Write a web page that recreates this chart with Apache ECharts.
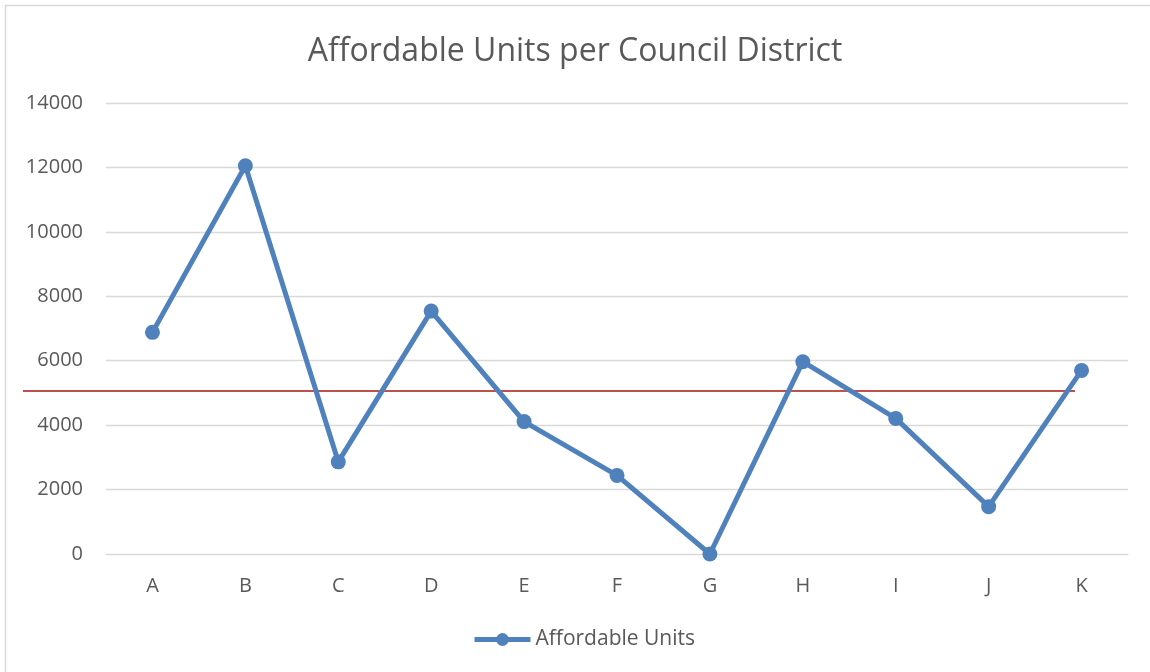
<!DOCTYPE html>
<html>
<head>
<meta charset="utf-8">
<script src="https://cdn.jsdelivr.net/npm/echarts@6/dist/echarts.min.js"></script>
<style>
    html, body { margin: 0; padding: 0; background: #fff; }
    #main { width: 1150px; height: 672px; }
</style>
</head>
<body>
<div id="main"></div>
<script>
var districts = ['A', 'B', 'C', 'D', 'E', 'F', 'G', 'H', 'I', 'J', 'K'];
var affordableUnits = [6880, 12050, 2860, 7540, 4110, 2440, 0, 5970, 4210, 1470, 5700];
var referenceLevel = 5060; // red line across the plot
var yTicks = [0, 14000, 2000]; // min, max, interval

var chart = echarts.init(document.getElementById('main'));
var txt = '#595959';
var font = '"Open Sans", "Liberation Sans", sans-serif';

var option = {
    animation: false,
    backgroundColor: '#fff',
    title: {
        text: 'Affordable Units per Council District',
        left: 'center',
        top: 31,
        textStyle: { fontFamily: font, fontSize: 32, fontWeight: 'normal', color: txt }
    },
    grid: { left: 106, right: 22, top: 103, bottom: 118 },
    legend: {
        bottom: 17,
        left: 467,
        itemWidth: 56,
        itemHeight: 16,
        itemGap: 10,
        lineStyle: { width: 5 },
        textStyle: { fontFamily: font, fontSize: 21, color: txt },
        data: ['Affordable Units']
    },
    xAxis: {
        type: 'category',
        data: districts,
        axisLine: { show: true, lineStyle: { color: '#d9d9d9', width: 1 } },
        axisTick: { show: false },
        axisLabel: { fontFamily: font, fontSize: 20, color: txt, margin: 22 }
    },
    yAxis: {
        type: 'value',
        min: yTicks[0],
        max: yTicks[1],
        interval: yTicks[2],
        axisLine: { show: false },
        axisTick: { show: false },
        axisLabel: {
            fontFamily: font, fontSize: 20, color: txt, margin: 23,
            formatter: function (v) { return String(v); }
        },
        splitLine: { lineStyle: { color: '#d9d9d9', width: 1.3 } }
    },
    series: [
        {
            name: 'Affordable Units',
            type: 'line',
            data: affordableUnits,
            symbol: 'circle',
            symbolSize: 15,
            itemStyle: { color: '#4f81bd' },
            lineStyle: { color: '#4f81bd', width: 5 },
            z: 3
        }
    ]
};
chart.setOption(option);

// red reference line, placed through the y scale
var yRef = chart.convertToPixel({ yAxisIndex: 0 }, referenceLevel);
chart.setOption({
    graphic: [
        {
            type: 'rect',
            shape: { x: 5.5, y: 5.5, width: 1300, height: 800 },
            style: { fill: null, stroke: '#d9d9d9', lineWidth: 1.5 },
            silent: true,
            z: 0
        },
        {
            type: 'line',
            shape: { x1: 23, y1: yRef, x2: 1075, y2: yRef },
            style: { stroke: '#c0504d', lineWidth: 2 },
            silent: true,
            z: 1
        }
    ]
});
</script>
</body>
</html>
